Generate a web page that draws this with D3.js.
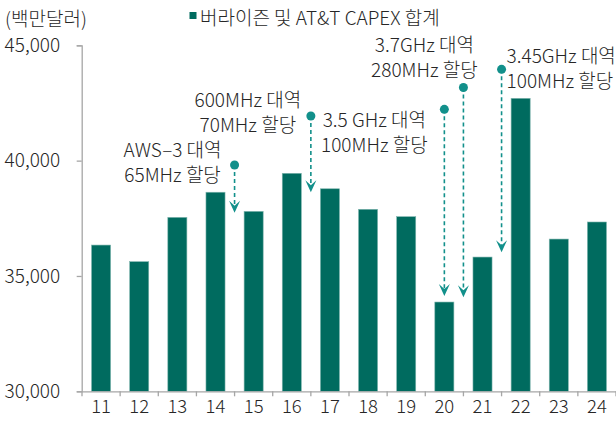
<!DOCTYPE html>
<html><head><meta charset="utf-8">
<script src="https://cdn.jsdelivr.net/npm/d3@7"></script>
<style>
html,body{margin:0;padding:0;background:#fff;}
svg{display:block;font-family:"Noto Sans CJK KR","Noto Sans",sans-serif;font-weight:300;}
</style></head>
<body><svg id="c" width="616" height="425"></svg>
<script>
const categories = ["11","12","13","14","15","16","17","18","19","20","21","22","23","24"];
const capex = [36340,35620,37540,38630,37800,39450,38780,37890,37570,33870,35820,42700,36600,37340];
const yTicks = [30000,35000,40000,45000];
const seriesName = "버라이즌 및 AT&T CAPEX 합계";
const unitLabel = "(백만달러)";
// annotations: year anchor, half-step shift, dot value, arrow tip value, two text lines
const annYear = ["14","16","20","20","21"];
const annShift = [0.5,0.5,0,0.5,0.5];
const annFrom = [39810,41934,42225,43170,43959];
const annTo = [37742,38627,34131,34075,36026];
const annLine1 = ["AWS–3 대역","600MHz 대역","3.5 GHz 대역","3.7GHz 대역","3.45GHz 대역"];
const annLine2 = ["65MHz 할당","70MHz 할당","100MHz 할당","280MHz 할당","100MHz 할당"];
// text layout relative to dot (style only)
const annLayout = [
  {dx:-62, dy1:-17, dy2:8, anchor:"middle"},
  {dx:-63, dy1:-18, dy2:7, anchor:"middle"},
  {dx:-70, dy1:9, dy2:34, anchor:"middle"},
  {dx:-39, dy1:-44, dy2:-19, anchor:"middle"},
  {dx:5, dy1:-15, dy2:10, anchor:"start"}
];

const svg = d3.select("#c");
const barColor = "#006B5F", annColor = "#12908B", axisColor = "#A6A6A6", textColor = "#262626";
const fs = 19, fsX = 18.5;
const x = d3.scaleBand().domain(categories).range([82,616]).paddingInner(0.5).paddingOuter(0.25);
const y = d3.scaleLinear().domain([30000,45000]).range([391.3,45.3]);

// bars
svg.append("g").selectAll("rect").data(capex).join("rect")
  .attr("x",(d,i)=>x(categories[i]))
  .attr("width",x.bandwidth())
  .attr("y",d=>y(d))
  .attr("height",d=>y(30000)-y(d))
  .attr("fill",barColor)
  .attr("stroke","#7FB5AE").attr("stroke-width",0.6);

// y axis
const ya = svg.append("g").attr("transform","translate(81.7,0)")
  .call(d3.axisLeft(y).tickValues(yTicks).tickSize(5).tickPadding(16.5).tickFormat(d3.format(",")));
ya.select(".domain").attr("stroke",axisColor).attr("stroke-width",1.3);
ya.selectAll(".tick line").attr("stroke",axisColor).attr("stroke-width",1.3);
ya.selectAll(".tick text").attr("font-size",fs).attr("fill",textColor);

// x axis
const xa = svg.append("g").attr("transform","translate(0,391.3)")
  .call(d3.axisBottom(x).tickSize(0).tickPadding(9));
xa.select(".domain").attr("stroke",axisColor).attr("stroke-width",1.3);
xa.selectAll(".tick text").attr("font-size",fsX).attr("fill",textColor);
const step = x.step();
const bounds = categories.map(c=>x(c)-(step-x.bandwidth())/2);
bounds.push(x(categories[categories.length-1])+x.bandwidth()+(step-x.bandwidth())/2);
xa.selectAll("line.bt").data(bounds).join("line").attr("class","bt")
  .attr("x1",d=>d).attr("x2",d=>d).attr("y1",0).attr("y2",5)
  .attr("stroke",axisColor).attr("stroke-width",1.3);
svg.selectAll("g").attr("font-family",null).attr("font-size",null);

// unit label & legend
svg.append("text").attr("x",5).attr("y",17).attr("dominant-baseline","central")
  .attr("font-size",fs).attr("fill",textColor).text(unitLabel);
svg.append("rect").attr("x",189.5).attr("y",12).attr("width",7).attr("height",7).attr("fill",barColor);
svg.append("text").attr("x",200).attr("y",16).attr("dominant-baseline","central")
  .attr("font-size",fs).attr("fill",textColor).text(seriesName);

// annotations
const ann = svg.append("g");
annYear.forEach((yr,i)=>{
  const ax = x(yr)+x.bandwidth()/2+annShift[i]*step;
  const y0 = y(annFrom[i]), y1 = y(annTo[i]);
  ann.append("line").attr("x1",ax).attr("x2",ax).attr("y1",y0).attr("y2",y1-6)
    .attr("stroke",annColor).attr("stroke-width",1.6).attr("stroke-dasharray","4,3");
  ann.append("circle").attr("cx",ax).attr("cy",y0).attr("r",4.5).attr("fill",annColor);
  ann.append("path")
    .attr("d",`M${ax},${y1} L${ax-5.5},${y1-12} L${ax},${y1-7} L${ax+5.5},${y1-12} Z`)
    .attr("fill",annColor);
  const L = annLayout[i];
  [annLine1[i],annLine2[i]].forEach((t,j)=>{
    ann.append("text").attr("x",ax+L.dx).attr("y",y0+(j?L.dy2:L.dy1))
      .attr("text-anchor",L.anchor).attr("dominant-baseline","central")
      .attr("font-size",fs).attr("fill",textColor).text(t);
  });
});
</script></body></html>
